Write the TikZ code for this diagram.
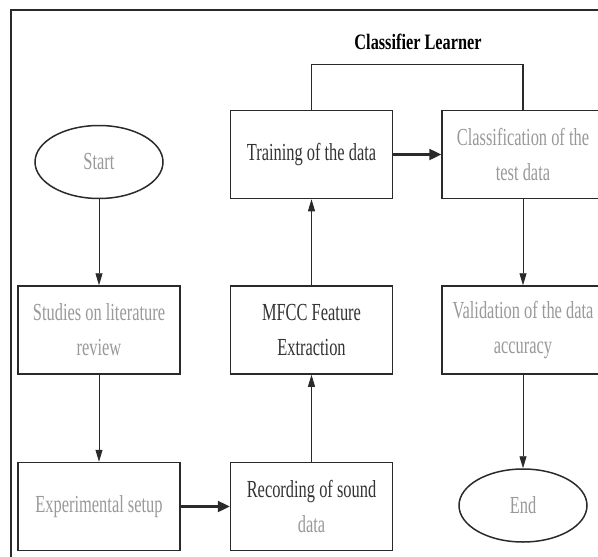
\documentclass[tikz,border=0pt]{standalone}
\usepackage{fontspec}
\setmainfont{Liberation Serif}[FakeStretch=0.67]
\newfontfamily\titlefont{Liberation Serif}[FakeStretch=0.74]
\usetikzlibrary{shapes.geometric,arrows.meta}
\definecolor{lightink}{HTML}{999999}
\definecolor{darkink}{HTML}{333333}
\definecolor{lineink}{HTML}{2A2A2A}
\tikzset{
  box/.style={draw=lineink, line width=1.5pt, minimum width=162pt, minimum height=88pt,
    inner sep=0pt, align=center, font=\fontsize{24.5}{35}\selectfont, text=lightink},
  oval/.style={draw=lineink, line width=1.5pt, ellipse, minimum width=128pt, minimum height=73pt,
    inner sep=0pt, font=\fontsize{24.5}{35}\selectfont, text=lightink},
  thinarrow/.style={draw=lineink, line width=0.9pt, -{Triangle[length=12pt,width=7pt]}},
  thickarrow/.style={draw=lineink, line width=2.4pt, -{Triangle[length=12pt,width=11pt]}},
  plainline/.style={draw=lineink, line width=1.3pt}
}
\begin{document}
\begin{tikzpicture}[x=1pt,y=-1pt]
\useasboundingbox (0,0) rectangle (598,557);
% frame
\draw[lineink, line width=2.5pt] (11,557) -- (11,10) -- (598,10);
% title
\node[font=\titlefont\bfseries\fontsize{22}{26}\selectfont, text=black] (title) at (418,42) {Classifier Learner};
% nodes
\node[oval] (start) at (99,162) {Start};
\node[box] (studies) at (99,330) {Studies on literature\\review};
\node[box] (exp) at (99,506.5) {Experimental setup};
\node[box] (rec) at (311.5,506.5) {\textcolor{darkink}{Recording of sound}\\data};
\node[box, text=darkink] (mfcc) at (311.5,330) {MFCC Feature\\Extraction};
\node[box, text=darkink] (train) at (311.5,154.5) {Training of the data};
\node[box] (cls) at (523,154.5) {Classification of the\\test data};
\node[box] (val) at (523,330) {Validation of the data\\accuracy};
\node[oval] (end) at (523,505.5) {End};
% connectors
\draw[thinarrow] (start) -- (studies);
\draw[thinarrow] (studies) -- (exp);
\draw[thickarrow] (exp) -- (rec);
\draw[thinarrow] (rec) -- (mfcc);
\draw[thinarrow] (mfcc) -- (train);
\draw[thickarrow] (train) -- (cls);
\draw[thinarrow] (cls) -- (val);
\draw[thinarrow] (val) -- (end);
\draw[plainline] (train.north) -- ++(0,-45) -| (cls.north);
\end{tikzpicture}
\end{document}
